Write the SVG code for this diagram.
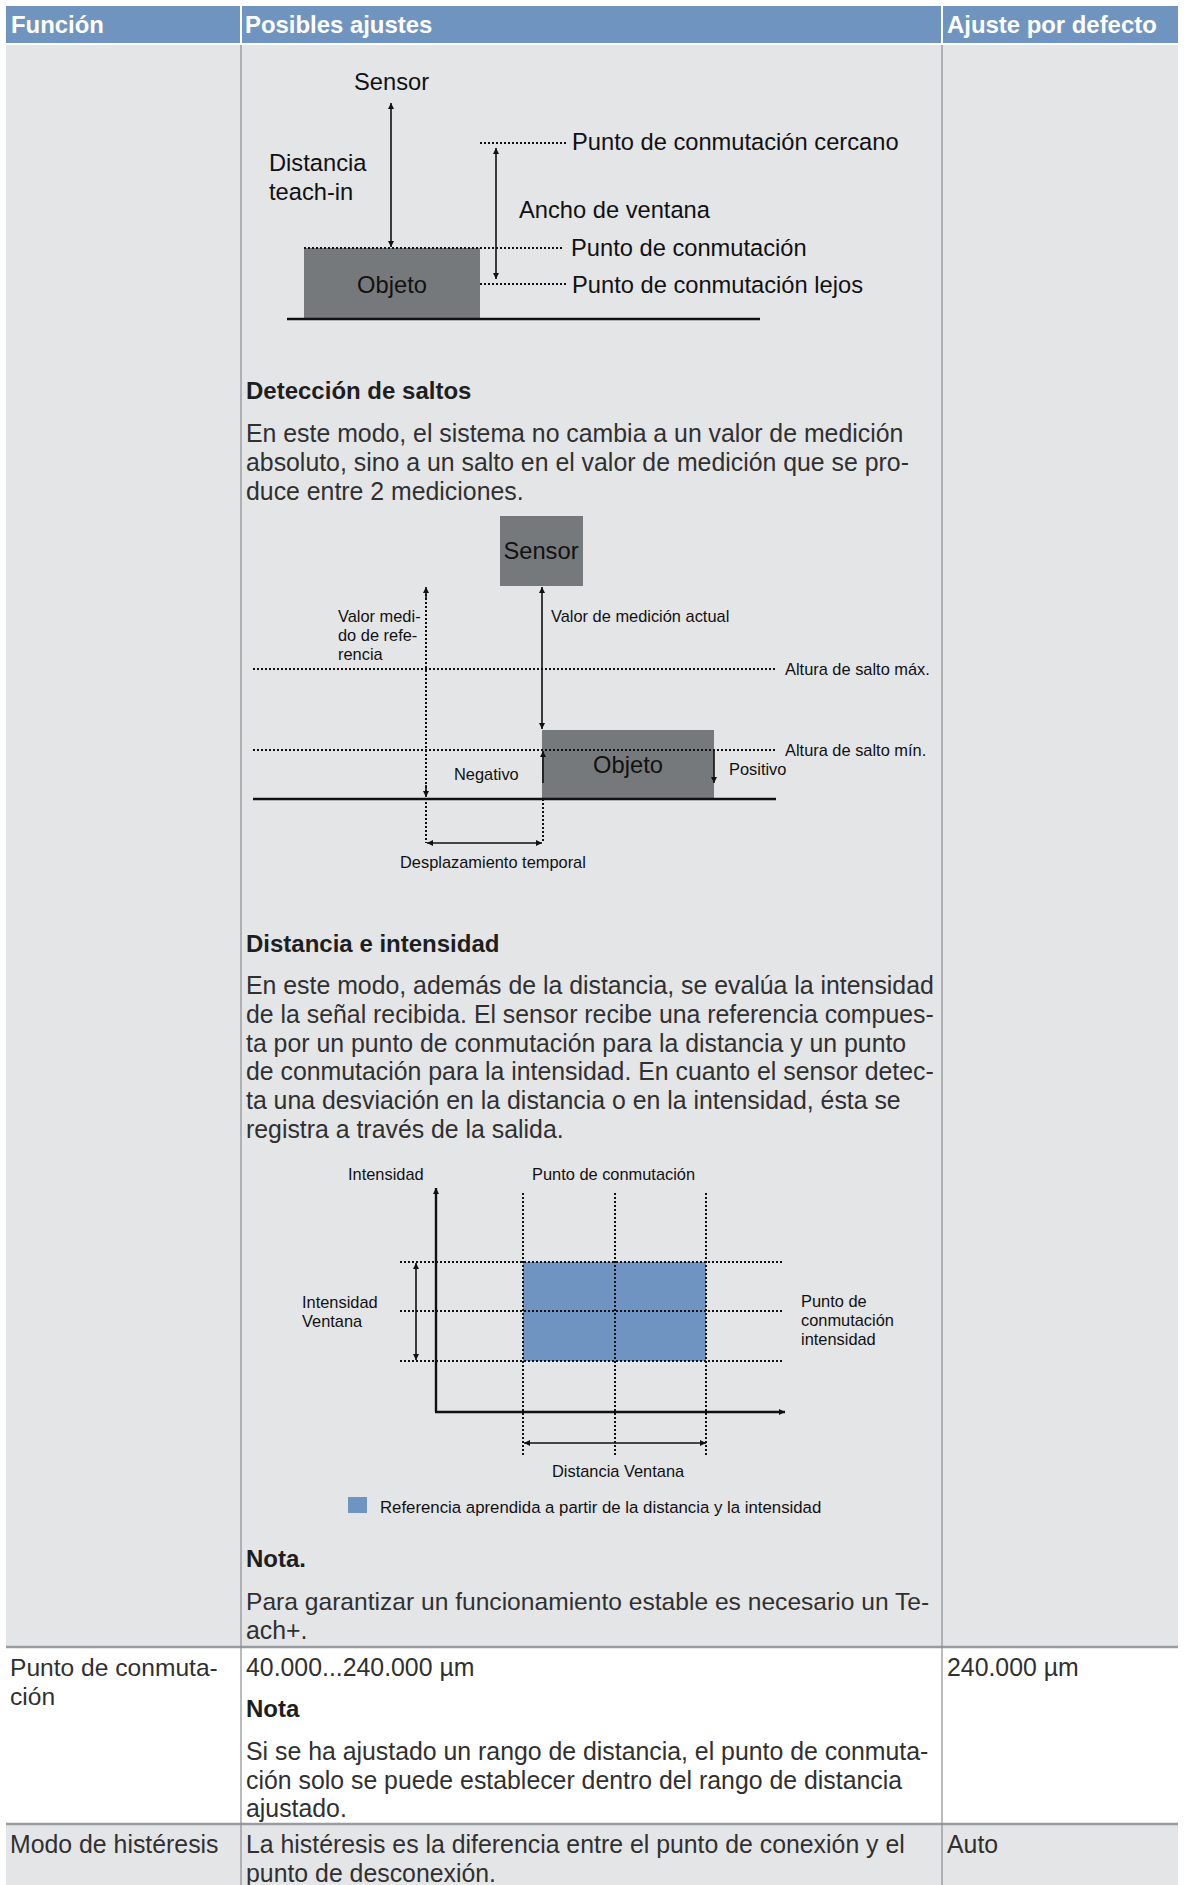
<svg xmlns="http://www.w3.org/2000/svg" width="1184" height="1885" viewBox="0 0 1184 1885">
<defs>
<style>
.hd{font-family:"Liberation Sans",Arial,sans-serif;font-weight:bold;font-size:23.9px;fill:#ffffff}
.bt{font-family:"Liberation Sans",Arial,sans-serif;font-size:24.85px;fill:#303030}
.bh{font-family:"Liberation Sans",Arial,sans-serif;font-size:24px;font-weight:bold;fill:#1e1e1e}
.lg{font-family:"Liberation Sans",Arial,sans-serif;font-size:23.7px;fill:#111}
.sm{font-family:"Liberation Sans",Arial,sans-serif;font-size:16.4px;fill:#111}
.dot{stroke:#111;stroke-width:2;stroke-dasharray:2 2;fill:none}
.ln{stroke:#111;stroke-width:1.6;fill:none}
.gnd{stroke:#111;stroke-width:2.4;fill:none}
.obj{fill:#76797c}
.blue{fill:#6f94c1}
.col{stroke:#8a8d91;stroke-width:1.2}
.row{stroke:#989ca1;stroke-width:2.5}
</style>
<marker id="ah" viewBox="0 0 10 10" refX="10" refY="5" markerWidth="8" markerHeight="6" markerUnits="userSpaceOnUse" orient="auto-start-reverse">
<path d="M0,0 L10,5 L0,10 z" fill="#111"/>
</marker>
</defs>
<rect width="1184" height="1885" fill="#ffffff"/>

<g id="table">
  <g id="header">
    <rect x="6" y="6" width="1172" height="37" fill="#7094c0"/>
    <line x1="241" y1="6" x2="241" y2="43" stroke="#ffffff" stroke-width="2"/>
    <line x1="942" y1="6" x2="942" y2="43" stroke="#ffffff" stroke-width="2"/>
    <text class="hd" x="11" y="33">Función</text>
    <text class="hd" x="245" y="33">Posibles ajustes</text>
    <text class="hd" x="947" y="33">Ajuste por defecto</text>
  </g>
  <g id="row-backgrounds">
    <rect x="6" y="45" width="1172" height="1602" fill="#e4e5e7"/>
    <rect x="6" y="1648" width="1172" height="176" fill="#ffffff"/>
    <rect x="6" y="1825" width="1172" height="60" fill="#e4e5e7"/>
    <line class="row" x1="6" y1="1647" x2="1178" y2="1647"/>
    <line class="row" x1="6" y1="1824" x2="1178" y2="1824"/>
    <line class="col" x1="241" y1="45" x2="241" y2="1885"/>
    <line class="col" x1="942" y1="45" x2="942" y2="1885"/>
  </g>
</g>

<g id="diagram-teach-in">
  <g id="d1-object">
    <rect class="obj" x="304" y="248" width="176" height="70"/>
    <text class="lg" x="392" y="293" text-anchor="middle">Objeto</text>
  </g>
  <text class="lg" x="354" y="90">Sensor</text>
  <text class="lg" x="269" y="171">Distancia</text>
  <text class="lg" x="269" y="200">teach-in</text>
  <text class="lg" x="572" y="150">Punto de conmutación cercano</text>
  <text class="lg" x="519" y="218">Ancho de ventana</text>
  <text class="lg" x="571" y="256">Punto de conmutación</text>
  <text class="lg" x="572" y="293">Punto de conmutación lejos</text>
</g>

<g id="text-deteccion">
  <text class="bh" x="246" y="399">Detección de saltos</text>
  <text class="bt" x="246" y="442">En este modo, el sistema no cambia a un valor de medición</text>
  <text class="bt" x="246" y="471">absoluto, sino a un salto en el valor de medición que se pro-</text>
  <text class="bt" x="246" y="500">duce entre 2 mediciones.</text>
</g>

<g id="diagram-saltos">
  <g id="d2-sensor">
    <rect class="obj" x="500" y="516" width="83" height="70"/>
    <text class="lg" x="541" y="559" text-anchor="middle">Sensor</text>
  </g>
  <g id="d2-object">
    <rect class="obj" x="542" y="730" width="172" height="68"/>
    <text class="lg" x="628" y="773" text-anchor="middle">Objeto</text>
  </g>
  <text class="sm" x="338" y="622">Valor medi-</text>
  <text class="sm" x="338" y="641">do de refe-</text>
  <text class="sm" x="338" y="660">rencia</text>
  <text class="sm" x="551" y="622">Valor de medición actual</text>
  <text class="sm" x="785" y="675">Altura de salto máx.</text>
  <text class="sm" x="785" y="756">Altura de salto mín.</text>
  <text class="sm" x="454" y="780">Negativo</text>
  <text class="sm" x="729" y="775">Positivo</text>
  <text class="sm" x="400" y="868">Desplazamiento temporal</text>
</g>

<g id="text-distancia">
  <text class="bh" x="246" y="952">Distancia e intensidad</text>
  <text class="bt" x="246" y="994">En este modo, además de la distancia, se evalúa la intensidad</text>
  <text class="bt" x="246" y="1023">de la señal recibida. El sensor recibe una referencia compues-</text>
  <text class="bt" x="246" y="1052">ta por un punto de conmutación para la distancia y un punto</text>
  <text class="bt" x="246" y="1080">de conmutación para la intensidad. En cuanto el sensor detec-</text>
  <text class="bt" x="246" y="1109">ta una desviación en la distancia o en la intensidad, ésta se</text>
  <text class="bt" x="246" y="1138">registra a través de la salida.</text>
</g>

<g id="diagram-intensidad">
  <rect id="d3-reference" class="blue" x="523" y="1262" width="183" height="99"/>
  <text class="sm" x="348" y="1180">Intensidad</text>
  <text class="sm" x="532" y="1180">Punto de conmutación</text>
  <text class="sm" x="302" y="1308">Intensidad</text>
  <text class="sm" x="302" y="1327">Ventana</text>
  <text class="sm" x="801" y="1307">Punto de</text>
  <text class="sm" x="801" y="1326">conmutación</text>
  <text class="sm" x="801" y="1345">intensidad</text>
  <text class="sm" x="552" y="1477">Distancia Ventana</text>
  <g id="d3-legend">
    <rect class="blue" x="348" y="1497" width="19" height="16"/>
    <text class="sm" x="380" y="1513" style="font-size:16.8px">Referencia aprendida a partir de la distancia y la intensidad</text>
  </g>
</g>

<g id="text-nota">
  <text class="bh" x="246" y="1567">Nota.</text>
  <text class="bt" x="246" y="1610" style="font-size:24.6px">Para garantizar un funcionamiento estable es necesario un Te-</text>
  <text class="bt" x="246" y="1639">ach+.</text>
</g>

<g id="row-punto">
  <text class="bt" x="10" y="1676" style="font-size:24.6px">Punto de conmuta-</text>
  <text class="bt" x="10" y="1705" style="font-size:24.6px">ción</text>
  <text class="bt" x="246" y="1676">40.000...240.000 µm</text>
  <text class="bh" x="246" y="1717">Nota</text>
  <text class="bt" x="246" y="1760">Si se ha ajustado un rango de distancia, el punto de conmuta-</text>
  <text class="bt" x="246" y="1789">ción solo se puede establecer dentro del rango de distancia</text>
  <text class="bt" x="246" y="1817">ajustado.</text>
  <text class="bt" x="947" y="1676">240.000 µm</text>
</g>

<g id="row-histeresis">
  <text class="bt" x="10" y="1853">Modo de histéresis</text>
  <text class="bt" x="246" y="1853">La histéresis es la diferencia entre el punto de conexión y el</text>
  <text class="bt" x="246" y="1882">punto de desconexión.</text>
  <text class="bt" x="947" y="1853">Auto</text>
</g>

<g id="connectors">
  <!-- diagram 1 -->
  <line class="ln" x1="391" y1="103" x2="391" y2="247" marker-start="url(#ah)" marker-end="url(#ah)"/>
  <line class="ln" x1="496" y1="148" x2="496" y2="279" marker-start="url(#ah)" marker-end="url(#ah)"/>
  <line class="dot" x1="480" y1="143" x2="566" y2="143"/>
  <line class="dot" x1="304" y1="248" x2="563" y2="248" stroke-width="2.4"/>
  <line class="dot" x1="480" y1="284" x2="566" y2="284"/>
  <line class="gnd" x1="287" y1="319" x2="760" y2="319"/>
  <!-- diagram 2 -->
  <line class="dot" x1="426" y1="590" x2="426" y2="843"/>
  <line x1="426" y1="600" x2="426" y2="587" class="ln" marker-end="url(#ah)"/>
  <line x1="426" y1="785" x2="426" y2="797" class="ln" marker-end="url(#ah)"/>
  <line class="ln" x1="542" y1="587" x2="542" y2="729" stroke-width="2" marker-start="url(#ah)" marker-end="url(#ah)"/>
  <line class="dot" x1="253" y1="669" x2="776" y2="669"/>
  <line class="dot" x1="253" y1="750" x2="776" y2="750"/>
  <line class="ln" x1="543" y1="783" x2="543" y2="751" stroke-width="2" marker-end="url(#ah)"/>
  <line class="ln" x1="714" y1="751" x2="714" y2="783" stroke-width="2" marker-end="url(#ah)"/>
  <line class="gnd" x1="253" y1="799" x2="776" y2="799"/>
  <line class="dot" x1="543" y1="799" x2="543" y2="843"/>
  <line class="ln" x1="427" y1="843" x2="542" y2="843" stroke-width="2" marker-start="url(#ah)" marker-end="url(#ah)"/>
  <!-- diagram 3 -->
  <line class="dot" x1="523" y1="1193" x2="523" y2="1455"/>
  <line class="dot" x1="615" y1="1193" x2="615" y2="1455"/>
  <line class="dot" x1="706" y1="1193" x2="706" y2="1455"/>
  <line class="dot" x1="400" y1="1262" x2="784" y2="1262"/>
  <line class="dot" x1="400" y1="1311" x2="784" y2="1311"/>
  <line class="dot" x1="400" y1="1361" x2="784" y2="1361"/>
  <line class="gnd" x1="436" y1="1412" x2="436" y2="1188" stroke-width="2" marker-end="url(#ah)"/>
  <line class="gnd" x1="435" y1="1412" x2="785" y2="1412" stroke-width="2" marker-end="url(#ah)"/>
  <line class="ln" x1="416" y1="1263" x2="416" y2="1360" marker-start="url(#ah)" marker-end="url(#ah)"/>
  <line class="ln" x1="524" y1="1443" x2="706" y2="1443" stroke-width="2" marker-start="url(#ah)" marker-end="url(#ah)"/>
</g>
</svg>
